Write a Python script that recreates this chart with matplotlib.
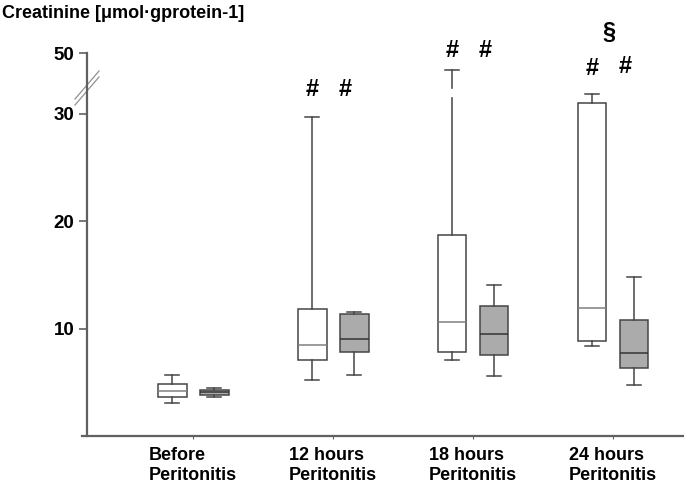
import numpy as np
import matplotlib
matplotlib.use("Agg")
import matplotlib.pyplot as plt

plt.rcParams['font.family'] = ['Liberation Sans', 'DejaVu Sans']
plt.rcParams['font.weight'] = 'bold'

# ---- data ----
groups = ["Before\nPeritonitis", "12 hours\nPeritonitis",
          "18 hours\nPeritonitis", "24 hours\nPeritonitis"]

# white boxes: whisker low, q1, median, q3, whisker high
white_lo = [3.07, 5.2, 7.04, 8.37]
white_q1 = [3.66, 7.1, 7.84, 8.81]
white_med = [4.16, 8.47, 10.63, 11.94]
white_q3 = [4.84, 11.84, 18.67, 30.98]
white_hi = [5.7, 29.67, 41.8, 31.79]

# grey boxes
grey_lo = [3.66, 5.65, 5.61, 4.71]
grey_q1 = [3.84, 7.79, 7.53, 6.3]
grey_med = [4.1, 9.02, 9.46, 7.69]
grey_q3 = [4.3, 11.35, 12.06, 10.82]
grey_hi = [4.5, 11.53, 14.05, 14.82]

# significance marks
mark_white = ["", "#", "#", "#"]
mark_white_y = [0, 32.2, 51.4, 42.3]
mark_grey = ["", "#", "#", "#"]
mark_grey_y = [0, 32.2, 51.4, 43.7]
mark_top = ["", "", "", "\u00a7"]
mark_top_y = [0, 0, 0, 60.1]

yticks = [10, 20, 30, 50]

# ---- broken y scale ----
B = 32.2      # break value
k = 0.1927    # compression above the break


def fwd(v):
    v = np.asarray(v, dtype=float)
    return np.where(v <= B, v, B + (v - B) * k)


def inv(u):
    u = np.asarray(u, dtype=float)
    return np.where(u <= B, u, B + (u - B) / k)


fig = plt.figure(figsize=(6.85, 4.88), dpi=100)
ax = fig.add_axes([82 / 685, 1 - 436 / 488, 601 / 685, 383 / 488])
ax.set_yscale('function', functions=(fwd, inv))

# spines first, set_position resets the ticks
for s in ['top', 'right']:
    ax.spines[s].set_visible(False)
ax.spines['left'].set_position(('data', 0.243))
ax.spines['left'].set_color('#606060')
ax.spines['left'].set_linewidth(1.6)
ax.spines['bottom'].set_color('#606060')
ax.spines['bottom'].set_linewidth(1.6)

pos = np.arange(1, len(groups) + 1)
off = 0.15
w = 0.207


def stats(lo, q1, med, q3, hi):
    return [dict(whislo=a, q1=b, med=c, q3=d, whishi=e, fliers=[])
            for a, b, c, d, e in zip(lo, q1, med, q3, hi)]


edge = '#454545'
ax.bxp(stats(white_lo, white_q1, white_med, white_q3, white_hi),
       positions=pos - off, widths=w, patch_artist=True, showfliers=False,
       boxprops=dict(facecolor='white', edgecolor=edge, linewidth=1.1),
       whiskerprops=dict(color=edge, linewidth=1.1),
       capprops=dict(color=edge, linewidth=1.1),
       medianprops=dict(color='#808080', linewidth=1.1))
ax.bxp(stats(grey_lo, grey_q1, grey_med, grey_q3, grey_hi),
       positions=pos + off, widths=w, patch_artist=True, showfliers=False,
       boxprops=dict(facecolor='#ababab', edgecolor=edge, linewidth=1.1),
       whiskerprops=dict(color=edge, linewidth=1.1),
       capprops=dict(color=edge, linewidth=1.1),
       medianprops=dict(color='#333333', linewidth=1.1))

# gap in the long whisker where the axis is broken
for i in range(len(groups)):
    if white_hi[i] > B:
        ax.plot([pos[i] - off - 0.02, pos[i] - off + 0.02], [B - 0.3, B - 0.3],
                color='white', linewidth=6, solid_capstyle='butt', zorder=5)

for i in range(len(groups)):
    if mark_white[i]:
        ax.text(pos[i] - off, mark_white_y[i], mark_white[i], ha='center',
                va='center', fontsize=17, fontweight='bold', clip_on=False)
    if mark_grey[i]:
        ax.text(pos[i] + 0.09, mark_grey_y[i], mark_grey[i], ha='center',
                va='center', fontsize=17, fontweight='bold', clip_on=False)
    if mark_top[i]:
        ax.text(pos[i] - 0.03, mark_top_y[i], mark_top[i], ha='center',
                va='center', fontsize=17, fontweight='bold', clip_on=False)

ax.set_xlim(0.207, 4.5)
ax.set_ylim(0, 50)
ax.set_xticks(pos)
ax.set_xticklabels(groups, fontsize=13, fontweight='bold',
                   multialignment='left')
ax.set_yticks(yticks)
ax.set_yticklabels([str(t) for t in yticks], fontsize=13.5, fontweight='bold')
ax.tick_params(axis='x', length=2, color='#606060', pad=6)
ax.tick_params(axis='y', length=6, width=1.2, color='#606060', pad=3)

# break marks on the y axis (axes fraction coordinates)
x0 = 5 / 601
for dy in (0.0, -6):
    xs = [x0 + (-12) / 601, x0 + 12 / 601]
    ys = [(436 - (91 + dy + 14)) / 383, (436 - (91 + dy - 14)) / 383]
    ax.plot(xs, ys, transform=ax.transAxes, color='#909090', linewidth=0.9,
            clip_on=False)

fig.text(2 / 685, 1 - 14 / 488, "Creatinine [\u03bcmol\u00b7gprotein-1]",
         fontsize=13, fontweight='bold', ha='left', va='center')

fig.savefig("out.png", dpi=100)
